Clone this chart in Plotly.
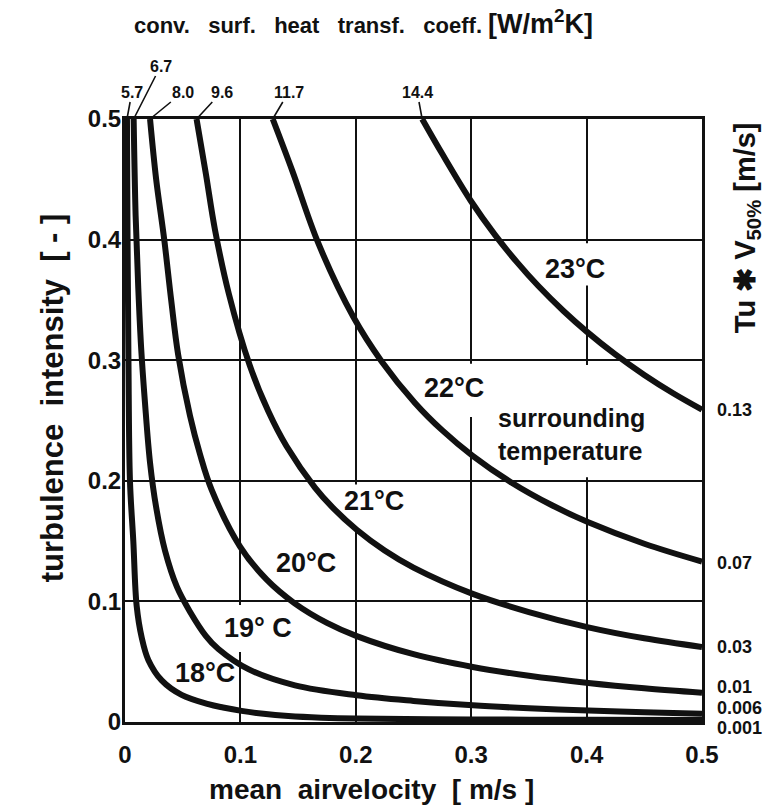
import plotly.graph_objects as go

# ---- data ----
# mean air velocity [m/s] (x) and turbulence intensity [-] (y) along each curve
V18 = [0.0017, 0.0022, 0.003, 0.0043, 0.0072, 0.0101, 0.0145, 0.0202, 0.0318, 0.049, 0.0722, 0.085, 0.101, 0.12, 0.1415, 0.17, 0.2, 0.3, 0.4, 0.5]
T18 = [0.5, 0.4, 0.3, 0.2, 0.15, 0.0963, 0.07, 0.0515, 0.0345, 0.0225, 0.0148, 0.012, 0.0092, 0.0068, 0.005, 0.0036, 0.0028, 0.0021, 0.0018, 0.0016]

V19 = [0.0075, 0.0092, 0.0115, 0.014, 0.0173, 0.0217, 0.027, 0.0347, 0.045, 0.0563, 0.07, 0.0809, 0.1069, 0.1473, 0.2008, 0.25, 0.3013, 0.35, 0.4015, 0.45, 0.5]
T19 = [0.5, 0.42, 0.36, 0.31, 0.265, 0.215, 0.178, 0.142, 0.112, 0.0915, 0.0715, 0.0605, 0.0438, 0.0304, 0.0222, 0.0175, 0.0138, 0.0114, 0.0095, 0.008, 0.0068]

V20 = [0.0217, 0.027, 0.034, 0.04, 0.046, 0.0563, 0.065, 0.0751, 0.0997, 0.1228, 0.1473, 0.175, 0.2008, 0.25, 0.3013, 0.35, 0.4015, 0.45, 0.5]
T20 = [0.5, 0.45, 0.4, 0.35, 0.305, 0.254, 0.222, 0.1925, 0.1455, 0.118, 0.0982, 0.0822, 0.0712, 0.0562, 0.0456, 0.0383, 0.0324, 0.0279, 0.0242]

V21 = [0.062, 0.07, 0.078, 0.09, 0.108, 0.1242, 0.14, 0.1646, 0.18, 0.2008, 0.225, 0.25, 0.3013, 0.35, 0.4015, 0.45, 0.5]
T21 = [0.5, 0.455, 0.408, 0.355, 0.296, 0.2576, 0.2286, 0.1944, 0.1778, 0.1594, 0.1422, 0.128, 0.1062, 0.0912, 0.0785, 0.0694, 0.0622]

V22 = [0.128, 0.145, 0.1675, 0.1978, 0.2224, 0.2513, 0.275, 0.3013, 0.3351, 0.37, 0.4015, 0.45, 0.5]
T22 = [0.5, 0.457, 0.397, 0.336, 0.299, 0.2646, 0.2418, 0.2207, 0.1984, 0.1797, 0.1656, 0.1478, 0.133]

V23 = [0.2575, 0.275, 0.2996, 0.3206, 0.34, 0.358, 0.38, 0.4001, 0.4246, 0.45, 0.475, 0.5]
T23 = [0.5, 0.4709, 0.4322, 0.4039, 0.3809, 0.3617, 0.3408, 0.3237, 0.305, 0.2878, 0.2726, 0.259]

CURVE_LABELS = ["18°C", "19° C", "20°C", "21°C", "22°C", "23°C"]
TOP_LABELS = ["5.7", "6.7", "8.0", "9.6", "11.7", "14.4"]           # conv. surf. heat transf. coeff.
RIGHT_LABELS = ["0.001", "0.006", "0.01", "0.03", "0.07", "0.13"]   # Tu * V50%
X_TICKS = [0, 0.1, 0.2, 0.3, 0.4, 0.5]
X_TICKTEXT = ["0", "0.1", "0.2", "0.3", "0.4", "0.5"]
Y_TICKS = [0, 0.1, 0.2, 0.3, 0.4, 0.5]
Y_TICKTEXT = ["0", "0.1", "0.2", "0.3", "0.4", "0.5"]

CURVES = [(V18, T18), (V19, T19), (V20, T20), (V21, T21), (V22, T22), (V23, T23)]

FONT = "Liberation Sans"
BLACK = "#111111"
SP = "&nbsp;"
Y_MAX = 0.5

fig = go.Figure()
for (v, t), name in zip(CURVES, CURVE_LABELS):
    fig.add_trace(go.Scatter(x=v, y=t, mode="lines", name=name,
                             line=dict(color=BLACK, width=6, shape="spline", smoothing=1.0),
                             showlegend=False, hoverinfo="skip"))

# label placement (data coords) for the curve temperatures
label_pos = [(0.069, 0.0407), (0.115, 0.078), (0.157, 0.132), (0.216, 0.1836), (0.285, 0.277), (0.39, 0.376)]
ann = []
for (x, y), txt in zip(label_pos, CURVE_LABELS):
    ann.append(dict(x=x, y=y, xref="x", yref="y", text=txt, showarrow=False,
                    font=dict(family=FONT, size=27, color=BLACK, weight="bold")))
ann.append(dict(x=0.387, y=0.238, xref="x", yref="y", text="surrounding<br>temperature",
                showarrow=False, align="left",
                font=dict(family=FONT, size=25, color=BLACK, weight="bold")))

# heat transfer coefficient labels at top with leader lines to the curve ends
offsets = [(5, -27), (27, -53), (33, -27), (25, -27), (16, -27), (-5, -27)]
for (v, t), txt, (ax, ay) in zip(CURVES, TOP_LABELS, offsets):
    ann.append(dict(x=v[0], y=t[0], xref="x", yref="y", text=txt, showarrow=True,
                    arrowhead=0, arrowwidth=1.6, arrowcolor=BLACK, ax=ax, ay=ay, standoff=0,
                    font=dict(family=FONT, size=16, color=BLACK, weight="bold")))

# Tu * V labels on the right
right_y = [-0.005, 0.0116, 0.029, 0.0623, 0.132, 0.259]
for txt, y in zip(RIGHT_LABELS, right_y):
    ann.append(dict(x=1.022, y=y / Y_MAX, xref="paper", yref="paper", text=txt, showarrow=False,
                    xanchor="left", yanchor="middle",
                    font=dict(family=FONT, size=18, color=BLACK, weight="bold")))

# titles
G = SP * 3
ann.append(dict(x=0.012, y=1.161, xref="paper", yref="paper", showarrow=False,
                xanchor="left", yanchor="middle",
                text=f"conv.{G}surf.{G}heat{G}transf.{G}coeff.{SP}"
                     f"<span style='font-size:27px'>[W/m<sup>2</sup>K]</span>",
                font=dict(family=FONT, size=22, color=BLACK, weight="bold")))
ann.append(dict(x=0.142, y=-0.112, xref="paper", yref="paper", showarrow=False,
                xanchor="left", yanchor="middle",
                text=f"mean{SP}{SP}airvelocity{SP}{SP}[{SP}m/s{SP}]",
                font=dict(family=FONT, size=28, color=BLACK, weight="bold")))
ann.append(dict(x=-0.1265, y=0.537, xref="paper", yref="paper", showarrow=False, textangle=-90,
                xanchor="center", yanchor="middle",
                text=f"turbulence{SP}{SP}intensity{SP}{SP}[{SP}-{SP}]",
                font=dict(family=FONT, size=31, color=BLACK, weight="bold")))
ann.append(dict(x=1.078, y=0.819, xref="paper", yref="paper", showarrow=False, textangle=-90,
                xanchor="center", yanchor="middle",
                text=f"Tu{SP}✱{SP}V<sub>50%</sub>{SP}[m/s]",
                font=dict(family=FONT, size=29, color=BLACK, weight="bold")))

# white boxes knocking out grid lines behind labels
boxes = [(0.36, 0.42, 0.362, 0.397), (0.26, 0.31, 0.253, 0.297), (0.31, 0.47, 0.203, 0.296),
         (0.19, 0.245, 0.158, 0.197), (0.085, 0.145, 0.058, 0.097)]
shapes = [dict(type="rect", xref="x", yref="y", x0=a, x1=b, y0=c, y1=d, layer="between",
               fillcolor="white", line=dict(width=0)) for a, b, c, d in boxes]

axis_common = dict(range=[0, Y_MAX], showgrid=True, gridcolor=BLACK, gridwidth=2,
                   zeroline=False, showline=True, linecolor=BLACK, linewidth=3, mirror=True,
                   tickfont=dict(family=FONT, size=24, color=BLACK, weight="bold"), ticks="")
fig.update_layout(
    width=769, height=808, paper_bgcolor="white", plot_bgcolor="white",
    margin=dict(l=125, r=67, t=119, b=86),
    xaxis=dict(tickvals=X_TICKS, ticktext=X_TICKTEXT, ticklabelstandoff=9, **axis_common),
    yaxis=dict(tickvals=Y_TICKS, ticktext=Y_TICKTEXT, ticklabelstandoff=-4, **axis_common),
    annotations=ann, shapes=shapes,
)
fig.write_html("out.html", config={"displayModeBar": False})

# remove the default page margin so the figure sits at the window's top-left corner
with open("out.html", "r", encoding="utf-8") as f:
    html = f.read()
html = html.replace("<head>", "<head><style>html,body{margin:0;padding:0;}</style>", 1)
with open("out.html", "w", encoding="utf-8") as f:
    f.write(html)
